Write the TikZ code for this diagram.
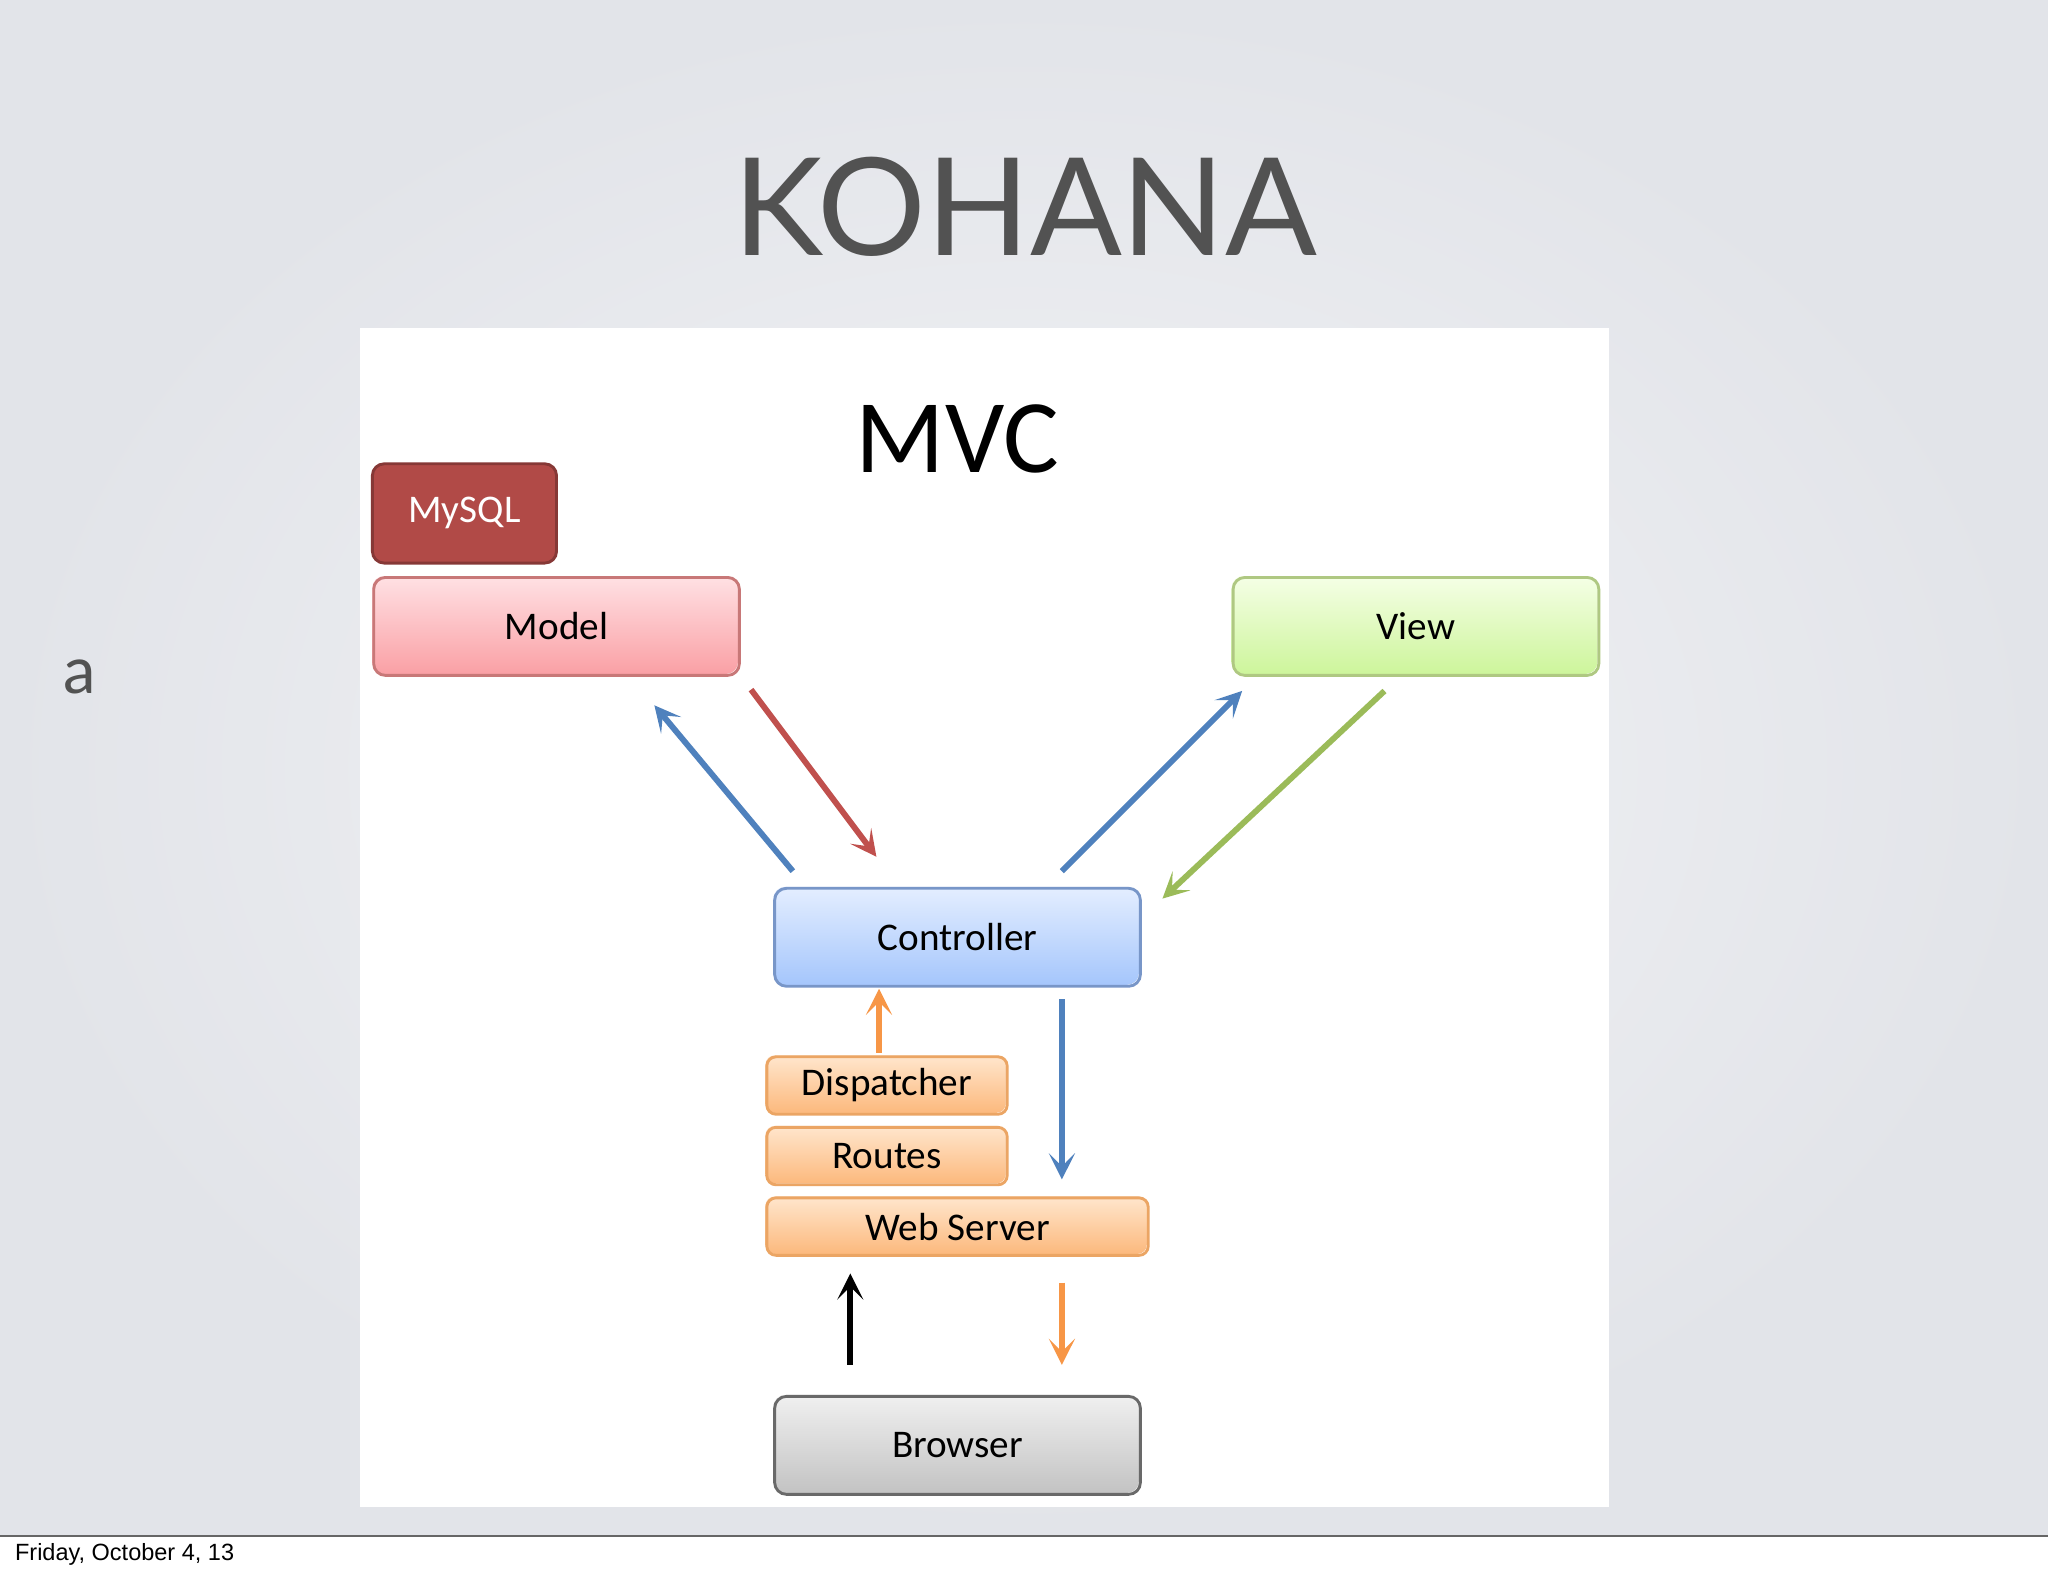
\documentclass[tikz,border=0pt]{standalone}
\usepackage{fontspec}
\setmainfont{Carlito}
\newfontfamily\titlefont{Lato}
\newfontfamily\footfont{Liberation Sans}
\usetikzlibrary{arrows.meta}
\definecolor{slidebg}{RGB}{226,228,233}
\tikzset{
 box/.style={draw=#1, line width=2.2pt, rounded corners=9pt, anchor=north west, inner sep=0pt, font=\fontsize{30}{32}\selectfont},
 conn/.style={line width=4.5pt, -{Stealth[length=20pt,width=20pt,inset=10pt]}}
}
\definecolor{cblue}{RGB}{79,129,189}
\definecolor{cred}{RGB}{192,80,77}
\definecolor{cgreen}{RGB}{155,187,89}
\definecolor{corange}{RGB}{247,150,70}
\definecolor{bred}{RGB}{200,120,120}
\definecolor{bgreen}{RGB}{175,200,130}
\definecolor{bblue}{RGB}{120,150,200}
\definecolor{borange}{RGB}{235,165,100}
\definecolor{bgray}{RGB}{105,105,105}
\definecolor{ptop}{RGB}{255,225,228}\definecolor{pbot}{RGB}{250,160,165}
\definecolor{gtop}{RGB}{245,255,230}\definecolor{gbot}{RGB}{205,245,155}
\definecolor{btop}{RGB}{228,238,255}\definecolor{bbot}{RGB}{165,198,252}
\definecolor{otop}{RGB}{255,230,205}\definecolor{obot}{RGB}{252,185,125}
\definecolor{ktop}{RGB}{240,240,240}\definecolor{kbot}{RGB}{195,195,195}
\begin{document}
\begin{tikzpicture}[x=1pt,y=-1pt]
\useasboundingbox (0,0) rectangle (1568,1206);
\fill[white] (0,0) rectangle (1568,1206);
\shade[inner color=white!60!slidebg, outer color=slidebg] (0,0) rectangle (1568,1176);
\draw[black!60, line width=1pt] (0,1176) -- (1568,1176);
\node[font=\footfont\fontsize{18}{20}\selectfont, anchor=west] (foot) at (8,1190) {Friday, October 4, 13};
\node[font=\titlefont\fontsize{104}{110}\selectfont, text=black!68] (title) at (785,158) {KOHANA};
\node[font=\titlefont\fontsize{50}{50}\selectfont, text=black!68] (a) at (61,518) {a};
\fill[white] (276,251) rectangle (1232,1154);
\node[font=\fontsize{80}{80}\selectfont] (mvc) at (733,336) {MVC};
\node[box=cred!70!black, fill=cred!92!black, text=white, minimum width=141pt, minimum height=76pt] (mysql) at (284,354) {MySQL};
\shade[top color=ptop, bottom color=pbot, rounded corners=9pt] (285,441) rectangle (565,516);
\node[box=bred, minimum width=280pt, minimum height=75pt] (model) at (285,441) {Model};
\shade[top color=gtop, bottom color=gbot, rounded corners=9pt] (943,441) rectangle (1223,516);
\node[box=bgreen, minimum width=280pt, minimum height=75pt] (view) at (943,441) {View};
\shade[top color=btop, bottom color=bbot, rounded corners=9pt] (592,679) rectangle (872,754);
\node[box=bblue, minimum width=280pt, minimum height=75pt] (ctrl) at (592,679) {Controller};
\shade[top color=otop, bottom color=obot, rounded corners=7pt] (586,808) rectangle (770,852);
\node[box=borange, rounded corners=7pt, minimum width=184pt, minimum height=44pt] (disp) at (586,808) {Dispatcher};
\shade[top color=otop, bottom color=obot, rounded corners=7pt] (586,862) rectangle (770,906);
\node[box=borange, rounded corners=7pt, minimum width=184pt, minimum height=44pt] (routes) at (586,862) {Routes};
\shade[top color=otop, bottom color=obot, rounded corners=7pt] (586,916) rectangle (878,960);
\node[box=borange, rounded corners=7pt, minimum width=292pt, minimum height=44pt] (web) at (586,916) {Web Server};
\shade[top color=ktop, bottom color=kbot, rounded corners=9pt] (592,1068) rectangle (872,1143);
\node[box=bgray, minimum width=280pt, minimum height=75pt] (browser) at (592,1068) {Browser};
\coordinate (c1) at (607,667); \coordinate (m1) at (501,540);
\coordinate (m2) at (575,528); \coordinate (c2) at (671,656);
\coordinate (c3) at (813,667); \coordinate (v1) at (951,529);
\coordinate (v2) at (1060,529); \coordinate (c4) at (890,688);
\coordinate (d1) at (673,806); \coordinate (c5) at (673,757);
\coordinate (c6) at (813,765); \coordinate (w1) at (813,903);
\coordinate (b1) at (651,1045); \coordinate (w2) at (651,975);
\coordinate (w3) at (813,982); \coordinate (b2) at (813,1045);
\draw[conn, cblue] (c1) -- (m1);
\draw[conn, cred] (m2) -- (c2);
\draw[conn, cblue] (c3) -- (v1);
\draw[conn, cgreen] (v2) -- (c4);
\draw[conn, corange] (d1) -- (c5);
\draw[conn, cblue] (c6) -- (w1);
\draw[conn, black] (b1) -- (w2);
\draw[conn, corange] (w3) -- (b2);
\end{tikzpicture}
\end{document}
